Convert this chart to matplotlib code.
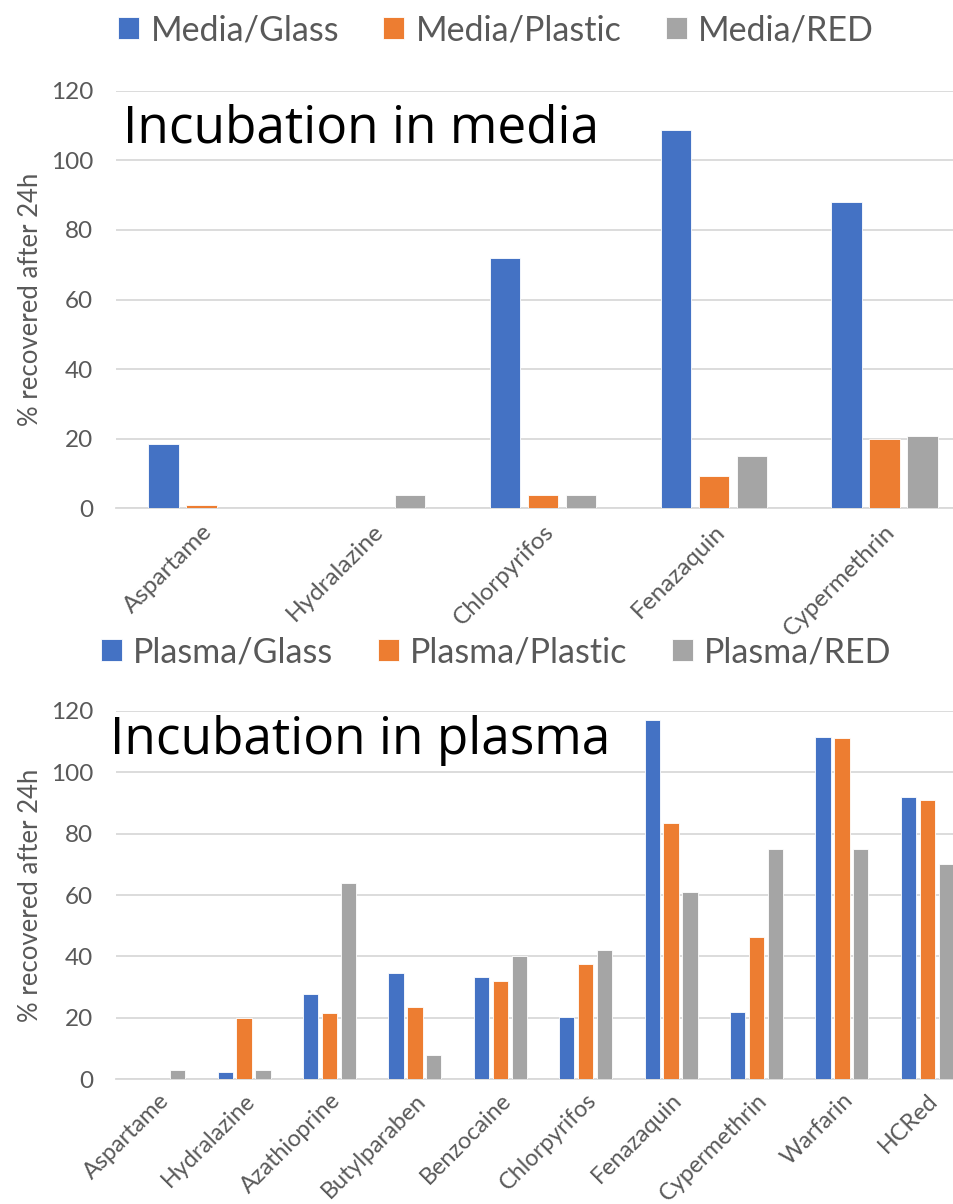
import matplotlib
matplotlib.use("Agg")
import matplotlib.pyplot as plt
import numpy as np

# ---- data ----
media_drugs = ["Aspartame", "Hydralazine", "Chlorpyrifos", "Fenazaquin", "Cypermethrin"]
media_glass = [18.5, 0, 72.0, 108.6, 88.1]
media_plastic = [0.9, 0, 3.8, 9.4, 20.0]
media_red = [0, 3.8, 3.8, 14.9, 20.9]

plasma_drugs = ["Aspartame", "Hydralazine", "Azathioprine", "Butylparaben", "Benzocaine",
                "Chlorpyrifos", "Fenazaquin", "Cypermethrin", "Warfarin", "HCRed"]
plasma_glass = [0, 2.4, 27.9, 34.5, 33.4, 20.4, 117.0, 21.9, 111.4, 91.9]
plasma_plastic = [0, 20.0, 21.5, 23.4, 32.0, 37.4, 83.4, 46.4, 111.0, 91.0]
plasma_red = [3.0, 3.0, 64.0, 7.9, 40.0, 42.0, 61.0, 75.0, 75.0, 70.0]

media_labels = ["Media/Glass", "Media/Plastic", "Media/RED"]
plasma_labels = ["Plasma/Glass", "Plasma/Plastic", "Plasma/RED"]
colors = ["#4472C4", "#ED7D31", "#A5A5A5"]

plt.rcParams["font.family"] = ["Lato", "DejaVu Sans"]
txt_gray = "#595959"
grid_gray = "#D9D9D9"

W, H = 954, 1204
fig = plt.figure(figsize=(W / 100, H / 100), dpi=100)

# axes boxes in pixels (left, top of 120 gridline, bottom at 0)
ax_top = fig.add_axes([116 / W, 1 - 508.3 / H, 854 / W, (508.3 - 90.7) / H])
ax_bot = fig.add_axes([116 / W, 1 - 1079.3 / H, 854 / W, (1079.3 - 710.7) / H])


def draw(ax, drugs, series, labels, title, title_pos, xfs, xpad):
    x = np.arange(len(drugs))
    step, width = 0.222, 0.178
    handles = []
    for i, (vals, lab) in enumerate(zip(series, labels)):
        b = ax.bar(x + (i - 1) * step, vals, width, color=colors[i], label=lab,
                   edgecolor="white", linewidth=0.6, zorder=3)
        handles.append(b)
    ax.set_xlim(-0.5, len(drugs) - 0.5)
    ax.set_ylim(0, 120)
    ax.set_yticks(range(0, 121, 20))
    ax.grid(axis="y", color=grid_gray, linewidth=1.3, zorder=0)
    for s in ["top", "right", "left"]:
        ax.spines[s].set_visible(False)
    ax.spines["bottom"].set_color(grid_gray)
    ax.spines["bottom"].set_linewidth(1.3)
    ax.tick_params(axis="both", length=0, colors=txt_gray, labelsize=17.5)
    ax.tick_params(axis="y", pad=16.5)
    ax.tick_params(axis="x", pad=xpad)
    ax.set_xticks(x)
    ax.set_xticklabels(drugs, rotation=45, ha="right", va="top",
                       rotation_mode="anchor", color=txt_gray, fontsize=xfs)
    ax.set_ylabel("% recovered after 24h", color=txt_gray, fontsize=18.5)
    ax.yaxis.set_label_coords(-0.085, 0.5)
    ax.text(title_pos[0], title_pos[1], title, transform=ax.transAxes,
            fontsize=37, color="black", ha="left", va="baseline", zorder=5,
            family="Open Sans")
    return handles


h1 = draw(ax_top, media_drugs, [media_glass, media_plastic, media_red],
          media_labels, "Incubation in media", (0.008, 0.875), 17.5, 9)
h2 = draw(ax_bot, plasma_drugs, [plasma_glass, plasma_plastic, plasma_red],
          plasma_labels, "Incubation in plasma", (-0.007, 0.8825), 16.8, 7.5)

for hs, labs, y in [(h1, media_labels, 1 - 30 / H), (h2, plasma_labels, 1 - 652 / H)]:
    fig.legend(hs, labs, loc="center", bbox_to_anchor=(0.52, y), ncol=3,
               frameon=False, fontsize=24.5, labelcolor=txt_gray,
               handlelength=0.62, handleheight=0.62, handletextpad=0.33,
               columnspacing=1.3)

fig.savefig("out.png", dpi=100)
